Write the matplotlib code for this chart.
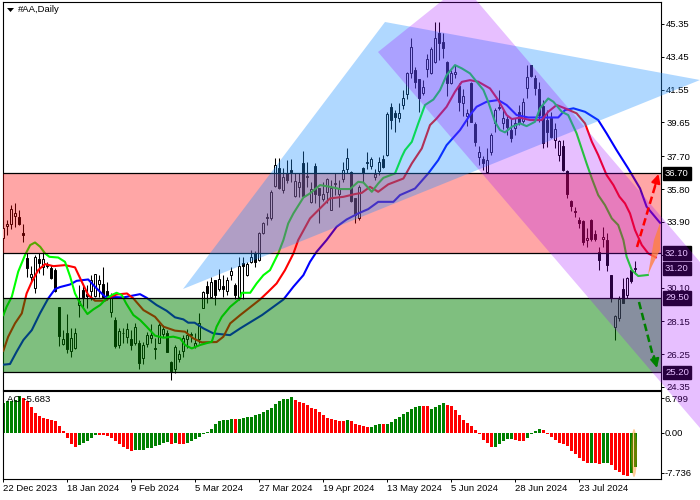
import matplotlib
matplotlib.use("Agg")
import matplotlib.pyplot as plt
from matplotlib.patches import Polygon, Ellipse

plt.rcParams['font.family'] = ['Liberation Sans', 'DejaVu Sans']
LABEL_SIZE = 6.8

# daily candles
OPEN = [32.94, 33.69, 33.75, 34.25, 34.18, 33.23, 31.79, 30.71, 30.09, 31.75,
        31.30, 31.38, 31.25, 31.11, 28.95, 26.85, 27.47, 26.45, 26.62, 29.11,
        29.96, 29.72, 29.92, 29.61, 30.30, 30.30, 29.90, 28.66, 28.22, 26.78,
        27.45, 27.26, 27.12, 26.91, 26.87, 26.01, 26.81, 27.20, 26.58, 26.91,
        27.39, 27.45, 25.79, 25.37, 25.97, 26.45, 27.12, 27.37, 26.74, 27.10,
        28.93, 30.19, 29.53, 30.53, 30.00, 30.19, 29.92, 30.82, 30.25, 29.55,
        31.52, 30.82, 31.58, 32.10, 31.69, 33.25, 34.18, 34.12, 35.97, 37.01,
        35.74, 36.72, 36.90, 35.39, 35.91, 37.30, 36.55, 35.05, 37.13, 35.86,
        35.22, 35.62, 34.58, 36.09, 35.51, 36.38, 36.96, 36.78, 35.28, 34.12,
        37.01, 37.33, 37.13, 36.49, 36.84, 37.53, 37.76, 40.54, 40.19, 39.90,
        40.66, 41.29, 42.51, 42.68, 42.16, 41.35, 42.74, 42.51, 43.14, 44.82,
        44.30, 43.14, 41.93, 42.45, 41.76, 40.77, 40.02, 41.93, 39.56, 37.65,
        37.53, 36.78, 37.94, 39.62, 40.48, 39.62, 39.85, 39.21, 39.33, 40.25,
        39.73, 41.64, 42.97, 42.22, 41.58, 40.60, 39.79, 39.90, 38.63, 37.76,
        38.29, 36.84, 35.10, 34.53, 34.01, 33.95, 32.85, 34.01, 33.20, 32.15,
        32.91, 32.85, 30.82, 27.82, 28.34, 30.01, 29.67, 31.11, 31.17]
HIGH = [34.29, 34.00, 34.87, 35.00, 34.58, 33.77, 32.08, 31.34, 31.98, 32.08,
        32.27, 31.59, 31.40, 31.21, 28.95, 27.64, 28.57, 27.74, 27.74, 30.24,
        30.24, 30.24, 30.82, 30.86, 30.82, 31.27, 30.44, 29.76, 28.38, 27.74,
        27.74, 28.03, 27.64, 28.03, 27.06, 26.97, 27.55, 27.99, 27.16, 28.03,
        27.93, 27.64, 25.85, 26.78, 26.49, 27.35, 27.68, 27.55, 27.45, 28.65,
        29.90, 30.50, 30.69, 30.53, 31.15, 30.82, 30.73, 31.29, 30.36, 31.87,
        31.87, 31.58, 32.27, 32.21, 33.31, 33.89, 34.41, 35.74, 37.59, 37.59,
        37.01, 37.48, 37.53, 36.72, 36.72, 37.99, 37.36, 36.20, 37.30, 35.86,
        36.20, 36.43, 36.32, 36.72, 36.32, 37.36, 38.17, 36.84, 35.28, 36.03,
        37.07, 37.94, 37.65, 36.96, 37.65, 37.76, 40.25, 40.77, 40.37, 40.77,
        41.52, 42.57, 44.53, 42.86, 42.16, 42.10, 43.61, 44.01, 45.46, 45.46,
        44.82, 43.20, 42.68, 42.97, 41.93, 41.58, 40.43, 41.99, 39.67, 38.29,
        37.71, 38.17, 39.04, 40.48, 41.52, 40.37, 40.08, 39.90, 39.90, 40.66,
        41.06, 42.97, 42.97, 42.39, 41.99, 40.95, 40.37, 40.25, 39.62, 38.63,
        38.63, 36.90, 35.16, 34.76, 34.18, 34.01, 33.54, 34.06, 33.43, 32.44,
        33.60, 33.25, 30.82, 28.51, 29.61, 30.65, 30.71, 31.17, 31.64]
LOW = [32.90, 33.13, 33.48, 33.62, 33.73, 32.75, 30.73, 30.44, 29.80, 30.92,
       30.82, 31.21, 30.57, 29.84, 26.72, 26.78, 26.29, 26.10, 26.54, 28.41,
       28.90, 28.90, 29.38, 29.57, 29.57, 29.47, 29.38, 28.38, 26.62, 26.58,
       26.87, 26.87, 26.49, 26.78, 25.39, 25.68, 26.68, 26.87, 25.97, 26.87,
       27.26, 26.35, 24.75, 25.14, 25.81, 26.10, 26.58, 26.97, 26.58, 26.87,
       28.90, 29.18, 29.47, 29.09, 29.92, 29.57, 29.67, 30.54, 29.44, 29.38,
       29.44, 30.77, 31.52, 31.29, 31.63, 33.20, 33.72, 34.01, 35.91, 35.80,
       35.57, 36.15, 36.20, 35.34, 35.34, 35.34, 35.91, 34.99, 34.99, 33.83,
       35.10, 34.99, 34.58, 35.45, 34.76, 36.20, 36.72, 35.05, 33.83, 34.01,
       36.20, 36.96, 36.96, 36.32, 36.61, 37.01, 37.71, 39.27, 39.10, 39.67,
       40.43, 41.00, 42.22, 41.64, 40.25, 41.24, 42.28, 42.45, 43.09, 43.26,
       43.38, 41.18, 41.87, 42.22, 40.31, 40.02, 39.44, 39.67, 38.29, 37.19,
       36.90, 36.72, 37.76, 39.10, 40.37, 39.27, 38.92, 38.52, 38.92, 39.50,
       39.62, 41.06, 42.28, 41.24, 39.67, 38.17, 38.23, 38.75, 38.17, 37.42,
       36.84, 35.28, 34.53, 34.18, 33.54, 32.56, 32.44, 32.79, 32.79, 31.11,
       32.44, 31.06, 29.26, 27.06, 28.16, 29.20, 29.49, 30.36, 30.88]
CLOSE = [33.56, 33.77, 34.62, 34.39, 33.77, 33.12, 31.25, 30.86, 31.88, 31.52,
         31.75, 31.34, 30.67, 29.90, 27.32, 27.10, 26.54, 27.20, 27.45, 29.30,
         29.53, 29.61, 30.53, 30.86, 30.53, 29.57, 29.57, 29.53, 26.72, 27.59,
         27.49, 27.70, 26.78, 27.80, 25.75, 26.78, 27.35, 27.35, 26.53, 27.93,
         27.68, 26.39, 25.29, 26.64, 26.26, 27.16, 27.35, 27.41, 26.91, 28.07,
         29.82, 29.80, 30.40, 29.69, 30.59, 30.00, 30.53, 31.06, 29.67, 31.35,
         31.35, 31.46, 31.87, 31.58, 33.25, 33.83, 34.12, 35.62, 37.19, 35.86,
         36.49, 36.32, 36.78, 36.26, 36.20, 35.39, 36.49, 35.80, 35.51, 35.45,
         35.51, 36.38, 35.86, 36.15, 35.86, 36.90, 37.59, 35.10, 34.29, 35.91,
         36.72, 37.36, 37.53, 36.67, 37.36, 37.07, 40.14, 39.79, 39.96, 40.19,
         41.06, 42.51, 44.01, 41.99, 41.06, 41.70, 43.32, 43.90, 44.53, 44.24,
         43.95, 41.93, 42.51, 42.57, 40.83, 41.18, 40.19, 39.67, 38.52, 37.94,
         37.30, 37.48, 38.92, 40.37, 40.54, 39.90, 39.38, 38.75, 39.62, 39.62,
         40.83, 42.28, 42.33, 41.64, 40.08, 38.46, 39.10, 38.81, 39.27, 38.57,
         36.90, 35.51, 34.82, 34.47, 33.83, 32.73, 32.96, 32.91, 32.91, 31.69,
         33.02, 31.40, 29.49, 28.45, 29.44, 29.20, 30.65, 30.48, 31.23]

# moving averages, read as (bar number, price)
LIPS_X = [0.1, 0.9, 2.2, 3.8, 5.5, 6.8, 8.0, 9.3, 10.5, 11.6, 13.8, 15.5, 16.8, 18.0, 19.3, 21.1, 22.6, 24.3,
          25.9, 27.2, 28.4, 29.7, 30.8, 32.6, 34.3, 35.9, 38.0, 40.1, 42.6, 44.3, 45.5, 47.2, 49.3, 52.2, 53.4,
          54.7, 56.8, 59.3, 59.7, 61.8, 63.4, 65.1, 66.75, 68.8, 70.1, 71.3, 72.6, 75.1, 76.75, 79.25, 81.75,
          84.25, 86.75, 88.8, 90.1, 92.2, 93.8, 95.1, 98.0, 99.7, 100.5, 102.2, 103.8, 105.5, 107.6, 109.25,
          110.9, 113.0, 114.7, 116.75, 118.4, 120.1, 121.3, 123.0, 124.25, 125.5, 127.2, 129.25, 130.9, 133.0,
          134.25, 136.3, 137.6, 139.7, 141.3, 143.4, 145.9, 147.2, 148.8, 150.5, 152.2, 153.8, 155.1, 155.9,
          157.2, 158.8, 161.2]
LIPS_Y = [28.51, 28.99, 29.57, 31.02, 31.98, 32.56, 32.71, 32.46, 32.08, 31.88, 31.84, 31.59, 30.73, 29.76, 29.18,
          28.57, 28.84, 29.09, 29.47, 29.67, 29.80, 29.67, 29.18, 28.51, 28.22, 27.84, 27.32, 27.20, 27.26, 27.16,
          26.78, 26.58, 26.78, 26.97, 27.84, 28.41, 28.99, 29.47, 29.80, 29.80, 30.34, 30.82, 31.11, 32.07, 32.85,
          33.81, 34.39, 35.31, 35.55, 36.03, 35.93, 35.80, 35.80, 36.22, 36.18, 35.64, 36.12, 36.45, 36.70, 37.67,
          38.05, 38.53, 39.59, 40.66, 40.98, 41.52, 42.39, 42.97, 42.78, 42.49, 42.01, 41.53, 40.85, 39.69, 39.21,
          39.08, 39.40, 39.60, 39.44, 39.69, 40.47, 41.04, 40.85, 40.27, 40.08, 39.02, 37.28, 36.42, 35.45, 34.87,
          34.10, 33.72, 32.85, 31.89, 31.11, 30.77, 30.83]
TEETH_X = [0.1, 1.3, 3.0, 4.7, 5.9, 7.2, 8.8, 10.5, 12.6, 15.5, 18.0, 19.7, 21.3, 23.0, 25.5, 27.0, 28.4, 31.0, 32.6,
           35.1, 38.0, 40.1, 43.0, 45.5, 47.6, 49.7, 53.4, 55.1, 56.8, 59.3, 64.25, 66.3, 68.4, 70.5, 72.6, 73.8,
           76.75, 79.25, 81.75, 85.1, 88.0, 89.7, 91.75, 93.8, 96.3, 100.1, 102.2, 104.7, 106.75, 108.4, 110.9,
           113.0, 114.7, 116.75, 118.8, 121.75, 123.8, 125.9, 127.2, 129.25, 131.75, 134.7, 136.3, 138.4, 140.5,
           143.4, 145.5, 147.2, 148.8, 150.9, 152.6, 154.1, 155.5, 156.75, 158.0, 159.7, 161.3, 163.2]
TEETH_Y = [26.45, 27.26, 28.03, 28.61, 29.76, 30.44, 31.11, 31.46, 31.34, 31.40, 31.27, 30.44, 29.67, 29.34, 29.34,
           29.57, 29.70, 29.76, 29.47, 28.80, 28.41, 27.84, 27.61, 27.55, 27.16, 26.93, 26.95, 27.26, 28.03, 28.51,
           29.41, 29.86, 30.34, 31.11, 32.07, 32.85, 34.10, 34.68, 35.26, 35.35, 35.51, 35.58, 35.93, 35.64, 36.07,
           36.41, 37.28, 38.15, 39.50, 39.88, 40.56, 41.43, 42.00, 42.10, 42.01, 41.62, 40.95, 40.08, 39.85, 39.93,
           39.79, 39.79, 40.27, 40.66, 40.47, 40.18, 39.60, 38.54, 37.77, 36.61, 36.03, 35.36, 34.97, 34.39, 33.43,
           32.56, 32.08, 31.85]
JAW_X = [0.1, 1.75, 3.4, 5.1, 7.2, 9.25, 11.3, 13.0, 14.25, 16.75, 18.4, 21.3, 23.0, 25.5, 30.1, 34.25, 35.9, 38.4,
         40.9, 43.0, 45.1, 46.3, 47.9, 50.1, 52.6, 56.75, 59.3, 64.75, 70.1, 72.6, 75.1, 76.75, 78.4, 80.9, 83.4,
         85.9, 88.8, 91.3, 93.8, 97.6, 99.25, 103.0, 106.3, 108.8, 110.9, 114.25, 116.75, 118.4, 120.9, 123.8,
         125.9, 128.4, 131.3, 135.5, 138.8, 140.5, 142.6, 145.5, 148.8, 150.9, 153.4, 156.3, 159.25, 160.9, 164.25]
JAW_Y = [25.64, 25.68, 26.39, 27.07, 27.64, 28.61, 29.47, 30.01, 30.13, 30.28, 30.49, 30.57, 30.15, 29.57, 29.53,
         29.72, 29.51, 29.09, 28.76, 28.38, 28.26, 28.07, 28.07, 27.74, 27.45, 27.35, 27.74, 28.51, 29.41, 30.15,
         30.82, 31.59, 32.17, 32.85, 33.62, 34.04, 34.39, 34.64, 35.06, 35.06, 35.45, 35.83, 36.70, 37.47, 38.34,
         39.21, 40.08, 40.56, 40.85, 40.95, 40.66, 40.08, 39.94, 39.94, 39.94, 40.37, 40.47, 40.27, 39.79, 39.02,
         38.05, 36.99, 35.84, 34.78, 33.85]

# awesome oscillator
AO = [5.84, 6.17, 6.23, 6.49, 7.14, 6.82, 6.23, 5.06, 3.90, 3.25,
      2.86, 2.73, 2.53, 2.34, 1.30, 0.39, -1.04, -2.08, -2.79, -2.40,
      -2.01, -1.62, -0.97, -0.45, -0.32, -0.45, -0.65, -0.91, -1.56, -2.08,
      -2.79, -3.05, -3.57, -3.38, -3.38, -3.25, -2.92, -2.86, -2.53, -2.27,
      -1.88, -1.75, -2.21, -2.01, -2.14, -2.21, -2.01, -1.49, -1.23, -0.84,
      -0.26, 0.26, 0.71, 1.69, 2.27, 2.47, 2.53, 2.66, 2.66, 2.73,
      2.86, 3.05, 3.05, 3.44, 3.64, 4.03, 4.55, 4.81, 5.58, 6.30,
      6.62, 6.69, 6.95, 6.36, 5.97, 5.84, 5.39, 4.81, 4.68, 4.03,
      3.57, 2.99, 2.73, 2.53, 2.27, 2.27, 2.53, 2.27, 1.82, 1.49,
      1.30, 1.10, 1.17, 1.49, 1.69, 1.69, 1.75, 2.14, 2.73, 3.05,
      3.64, 4.03, 4.68, 5.00, 5.26, 5.26, 5.19, 4.74, 5.06, 5.39,
      5.78, 5.39, 5.19, 4.55, 3.57, 2.53, 1.95, 1.30, 0.58, -0.19,
      -1.43, -1.95, -2.73, -2.73, -2.21, -1.62, -1.23, -1.23, -1.43, -1.56,
      -1.62, -0.97, -0.19, 0.39, 0.71, 0.52, -0.19, -0.78, -1.43, -2.01,
      -2.14, -2.53, -3.44, -4.16, -4.87, -5.45, -5.84, -5.84, -5.84, -6.04,
      -5.84, -5.84, -6.30, -7.27, -7.60, -8.12, -8.38, -7.79, -6.62]
AO_COLORS = ("g" * 5 + "r" * 14 + "g" * 5 + "r" * 9 + "g" * 9 + "r" + "g" + "r" * 2 + "g" * 12 + "r" + "g" * 14
             + "r" * 13 + "g" + "r" * 5 + "g" * 3 + "r" + "g" * 9 + "r" * 2 + "g" * 4 + "r" * 12 + "g" * 5 + "r" * 3
             + "g" * 4 + "r" * 12 + "g" + "r" * 2 + "g" * 2 + "r" * 5 + "g" * 2)

PRICE_TICKS = [45.35, 43.45, 41.55, 39.65, 37.70, 35.80, 33.90, 32.00, 30.10, 28.15, 26.25, 24.35]
AO_TICKS = [6.799, 0.0, -7.736]
AO_TICK_LABELS = ["6.799", "0.00", "-7.736"]
DATE_TICKS = [0, 16, 32, 48, 64, 80, 96, 112, 128, 144]
DATE_LABELS = ["22 Dec 2023", "18 Jan 2024", "9 Feb 2024", "5 Mar 2024", "27 Mar 2024",
               "19 Apr 2024", "13 May 2024", "5 Jun 2024", "28 Jun 2024", "23 Jul 2024"]
LEVELS = [36.70, 32.10, 29.50, 25.20]
BOX_LEVELS = [36.70, 32.10, 31.20, 29.50, 25.20]

W, H = 700, 500
fig = plt.figure(figsize=(W / 100, H / 100), dpi=100)
ax = fig.add_axes([2.5 / W, 1 - 389.5 / H, 658.5 / W, 387.5 / H])
ax2 = fig.add_axes([2.5 / W, 1 - 479.3 / H, 658.5 / W, 88 / H])
xlim = (-0.125, 164.5)

# candles
bars = range(len(OPEN))
ax.vlines(bars, LOW, HIGH, color='black', linewidth=0.75, zorder=2)
faces = ['white' if c > o else 'black' for o, c in zip(OPEN, CLOSE)]
ax.bar(bars, [abs(c - o) for o, c in zip(OPEN, CLOSE)], bottom=[min(o, c) for o, c in zip(OPEN, CLOSE)],
       width=0.5, color=faces, edgecolor='black', linewidth=0.72, zorder=3)

ax.plot(JAW_X, JAW_Y, color='#0000ff', linewidth=1.5, zorder=4)
ax.plot(TEETH_X, TEETH_Y, color='#ff0000', linewidth=1.5, zorder=4)
ax.plot(LIPS_X, LIPS_Y, color='#00ff00', linewidth=1.5, zorder=4)

# zones
ax.axhspan(LEVELS[1], LEVELS[0], color='#ff0000', alpha=0.35, linewidth=0, zorder=5)
ax.axhspan(LEVELS[3], LEVELS[2], color='#008000', alpha=0.5, linewidth=0, zorder=5)
for lev in LEVELS:
    ax.axhline(lev, color='black', linewidth=0.9, zorder=6)

ax.set_xlim(*xlim)
ax.set_ylim(24.205, 46.62)
ax.set_xticks([])
ax.yaxis.tick_right()
ax.set_yticks(PRICE_TICKS)
ax.set_yticklabels(["%.2f" % p for p in PRICE_TICKS])
ax.tick_params(axis='y', length=2.2, width=0.7, pad=1.5, labelsize=LABEL_SIZE)

# price boxes
for lev in BOX_LEVELS:
    ax.text(1.0061, lev, "%.2f" % lev, transform=ax.get_yaxis_transform(), color='white', fontsize=LABEL_SIZE,
            va='center', ha='left', zorder=20, clip_on=False,
            bbox=dict(facecolor='black', edgecolor='black', pad=1.5))

# oscillator
ax2.bar(bars, AO, width=0.75, color=['#008000' if c == 'g' else '#ff0000' for c in AO_COLORS], linewidth=0)
ax2.set_xlim(*xlim)
ax2.set_ylim(-9.01, 8.11)
ax2.yaxis.tick_right()
ax2.set_yticks(AO_TICKS)
ax2.set_yticklabels(AO_TICK_LABELS)
ax2.tick_params(axis='y', length=2.2, width=0.7, pad=0.5, labelsize=LABEL_SIZE)
ax2.set_xticks(DATE_TICKS)
ax2.set_xticklabels(DATE_LABELS, ha='left')
ax2.tick_params(axis='x', length=2.2, width=0.7, pad=1.5, labelsize=LABEL_SIZE)
ax2.text(0.0075, 0.905, "AO -5.683", transform=ax2.transAxes, fontsize=LABEL_SIZE, va='center', ha='left')

for a in (ax, ax2):
    for s in a.spines.values():
        s.set_linewidth(0.8)

# drawn objects sit on top of everything, in screen pixels
top = fig.add_axes([0, 0, 1, 1], zorder=10)
top.set_xlim(0, W)
top.set_ylim(H, 0)
top.axis('off')
top.patch.set_visible(False)

top.add_patch(Polygon([(183, 289), (385, 22), (700, 80)], closed=True, facecolor='#1e90ff', alpha=0.35,
                      edgecolor='none'))
top.add_patch(Polygon([(378, 52), (443, 0), (476, 0), (700, 262), (700, 428)], closed=True, facecolor='#a000ff',
                      alpha=0.25, edgecolor='none'))
top.add_patch(Polygon([(648, 275), (654, 240), (660, 223), (660, 250), (652, 266)], closed=True,
                      facecolor='#ff8040', alpha=0.8, edgecolor='none'))
top.add_patch(Ellipse((634, 453), 6, 48, facecolor='#ff8000', alpha=0.4, edgecolor='none'))

top.plot([637, 656], [247, 183], color='#ff0000', linewidth=1.8, linestyle=(0, (3, 1.5)))
top.annotate("", xy=(658.5, 174), xytext=(655, 186),
             arrowprops=dict(arrowstyle='-|>', color='#ff0000', mutation_scale=13, linewidth=1.5,
                             shrinkA=0, shrinkB=0))
top.plot([639, 654], [302, 360], color='#008000', linewidth=1.8, linestyle=(0, (3, 1.5)))
top.annotate("", xy=(657, 368), xytext=(654, 356),
             arrowprops=dict(arrowstyle='-|>', color='#008000', mutation_scale=13, linewidth=1.5,
                             shrinkA=0, shrinkB=0))

top.add_patch(Polygon([(7, 8), (14, 8), (10.5, 12)], closed=True, facecolor='black', edgecolor='none'))
top.text(18, 10, "#AA,Daily", fontsize=LABEL_SIZE, va='center', ha='left')

fig.savefig("out.png", dpi=100)
